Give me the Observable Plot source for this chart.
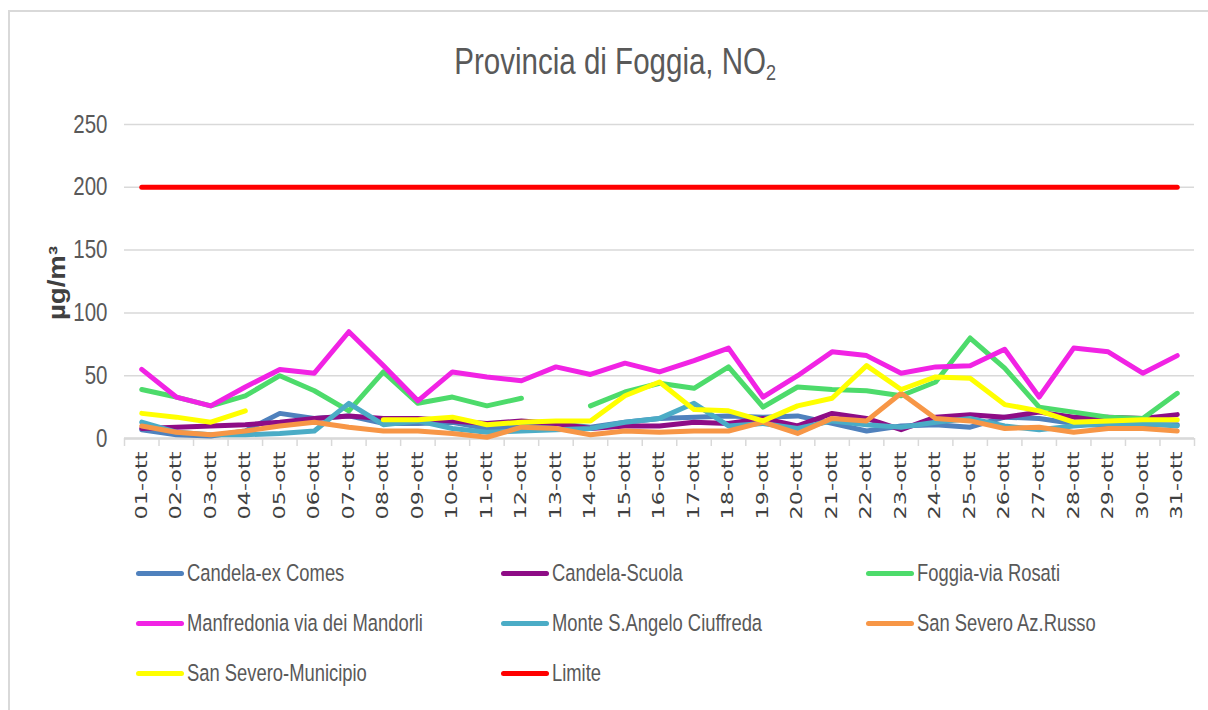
<!DOCTYPE html>
<html>
<head>
<meta charset="utf-8">
<script src="https://cdn.jsdelivr.net/npm/d3@7"></script>
<script src="https://cdn.jsdelivr.net/npm/@observablehq/plot@0.6"></script>
<style>
  html, body { margin: 0; padding: 0; background: #fff; }
  #wrap { position: relative; width: 1208px; height: 710px; overflow: hidden; background: #fff; }
  #frame { position: absolute; left: 8px; top: 10px; width: 1400px; height: 900px;
           border-left: 2px solid #d9d9d9; border-top: 2px solid #d9d9d9; }
  .narrow { font-family: "Liberation Sans", Arial, sans-serif; }
  .sq { display: inline-block; transform: scaleX(0.82); white-space: nowrap; }
  #title { position: absolute; left: 11px; width: 1208px; top: 40px; text-align: center;
           font-size: 36px; color: #595959; line-height: 44px; }
  #title .sq { transform-origin: 50% 50%; }
  #title sub { font-size: 22px; vertical-align: -6px; line-height: 0; }
  #chart { position: absolute; left: 0; top: 110px; }
  #ylabel { position: absolute; left: 57px; top: 283px; transform: translate(-50%, -50%) rotate(-90deg) scaleX(1.2);
            font-family: "Liberation Sans", Arial, sans-serif; font-weight: bold; font-size: 23px; color: #404040; white-space: nowrap; }
  #legend { position: absolute; left: 136px; top: 548px; display: grid;
            grid-template-columns: 365px 365px 365px; grid-auto-rows: 50px; }
  .item { display: flex; align-items: center; font-size: 24.5px; color: #595959; white-space: nowrap; }
  .item .sq { transform: scaleX(0.75); transform-origin: 0 50%; }
  .sw { width: 48px; height: 5px; border-radius: 2.5px; margin-right: 3px; flex: none; }
</style>
</head>
<body>
<div id="wrap">
  <div id="frame"></div>
  <div id="title" class="narrow"><span class="sq">Provincia di Foggia, NO<sub>2</sub></span></div>
  <div id="chart"></div>
  <div id="ylabel">µg/m³</div>
  <div id="legend" class="narrow"></div>
</div>
<script>
// ---- data ----
const days = ["01-ott","02-ott","03-ott","04-ott","05-ott","06-ott","07-ott","08-ott","09-ott","10-ott",
              "11-ott","12-ott","13-ott","14-ott","15-ott","16-ott","17-ott","18-ott","19-ott","20-ott",
              "21-ott","22-ott","23-ott","24-ott","25-ott","26-ott","27-ott","28-ott","29-ott","30-ott","31-ott"];
const yTicks = [0, 50, 100, 150, 200, 250];

const seriesNames = ["Candela-ex Comes", "Candela-Scuola", "Foggia-via Rosati", "Manfredonia via dei Mandorli",
                     "Monte S.Angelo Ciuffreda", "San Severo Az.Russo", "San Severo-Municipio", "Limite"];
const seriesColors = ["#4f81bd", "#8e0c86", "#4ddb6b", "#f123e4", "#4bacc6", "#f79646", "#ffff00", "#ff0000"];

const candelaExComes = [7,3,2,6,20,16,18,12,12,13,8,10,12,9,13,16,17,18,17,18,12,6,10,11,9,17,16,12,10,11,11];
const candelaScuola  = [8,9,10,11,13,16,18,16,16,14,12,14,12,8,10,10,13,12,16,10,20,16,7,17,19,17,21,17,17,16,19];
const foggiaRosati   = [39,33,26,34,50,38,22,53,28,33,26,32,null,26,37,44,40,57,25,41,39,38,34,45,80,56,25,21,17,16,36];
const manfredonia    = [55,33,26,41,55,52,85,58,30,53,49,46,57,51,60,53,62,72,33,50,69,66,52,57,58,71,33,72,69,52,66];
const monteSAngelo   = [13,5,3,3,4,6,28,11,14,8,5,6,7,8,13,16,28,10,12,8,14,11,9,13,16,10,7,10,12,12,10];
const sanSeveroRusso = [10,5,3,6,10,13,9,6,6,4,1,9,8,3,6,5,6,6,13,4,16,14,36,16,14,8,9,5,8,8,6];
const sanSeveroMunic = [20,17,13,22,null,null,null,15,15,17,11,13,14,14,34,45,23,22,14,26,32,58,39,49,48,27,22,13,14,15,15];
const limite         = [200,200,200,200,200,200,200,200,200,200,200,200,200,200,200,200,200,200,200,200,
                        200,200,200,200,200,200,200,200,200,200,200];

const seriesValues = [candelaExComes, candelaScuola, foggiaRosati, manfredonia, monteSAngelo, sanSeveroRusso, sanSeveroMunic, limite];

// long table
const rows = [];
seriesNames.forEach((name, s) => {
  seriesValues[s].forEach((v, i) => rows.push({series: name, day: i + 1, value: v}));
});
const dayIdx = days.map((d, i) => i + 1);
const boundaries = d3.range(0, days.length + 1).map(i => i + 0.5);

const chart = Plot.plot({
  width: 1208,
  height: 430,
  marginLeft: 124,
  marginRight: 14,
  marginTop: 14,
  marginBottom: 102,
  style: { background: "transparent", color: "#595959", overflow: "visible" },
  x: { type: "linear", domain: [0.5, days.length + 0.5] },
  y: { domain: [0, 250] },
  color: { domain: seriesNames, range: seriesColors },
  marks: [
    Plot.gridY(yTicks, { stroke: "#d9d9d9", strokeOpacity: 1, strokeWidth: 1.5 }),
    Plot.axisY(yTicks, { tickSize: 0, tickPadding: 17, label: null, fontSize: 25,
                         fontFamily: "Liberation Sans, Arial, sans-serif", fill: "#595959" }),
    Plot.ruleY([0], { stroke: "#d9d9d9", strokeWidth: 2.5 }),
    Plot.axisX(boundaries, { tickSize: 8, tickFormat: () => "", stroke: "#d9d9d9", strokeWidth: 1.5, label: null }),
    Plot.axisX(dayIdx, { tickSize: 0, tickPadding: 13, tickRotate: -90, tickFormat: i => days[i - 1],
                         label: null, fontSize: 15, fontFamily: "DejaVu Sans, sans-serif", fill: "#404040" }),
    Plot.line(rows, { x: "day", y: "value", z: "series", stroke: "series", strokeWidth: 5,
                      strokeLinejoin: "round", strokeLinecap: "round" })
  ]
});
document.getElementById("chart").appendChild(chart);

// stretch rotated day labels to the reference's length
d3.select(chart).selectAll("g[aria-label='x-axis tick label'] text")
  .attr("textLength", 68).attr("lengthAdjust", "spacingAndGlyphs");
// condensed y tick labels (narrow face)
d3.select(chart).selectAll("g[aria-label='y-axis tick label'] text")
  .attr("transform", function() { return (this.getAttribute("transform") || "") + " scale(0.82,1)"; });

// legend
const legend = d3.select("#legend");
seriesNames.forEach((name, s) => {
  const it = legend.append("div").attr("class", "item");
  it.append("div").attr("class", "sw").style("background", seriesColors[s]);
  it.append("span").attr("class", "sq").text(name);
});
</script>
</body>
</html>
